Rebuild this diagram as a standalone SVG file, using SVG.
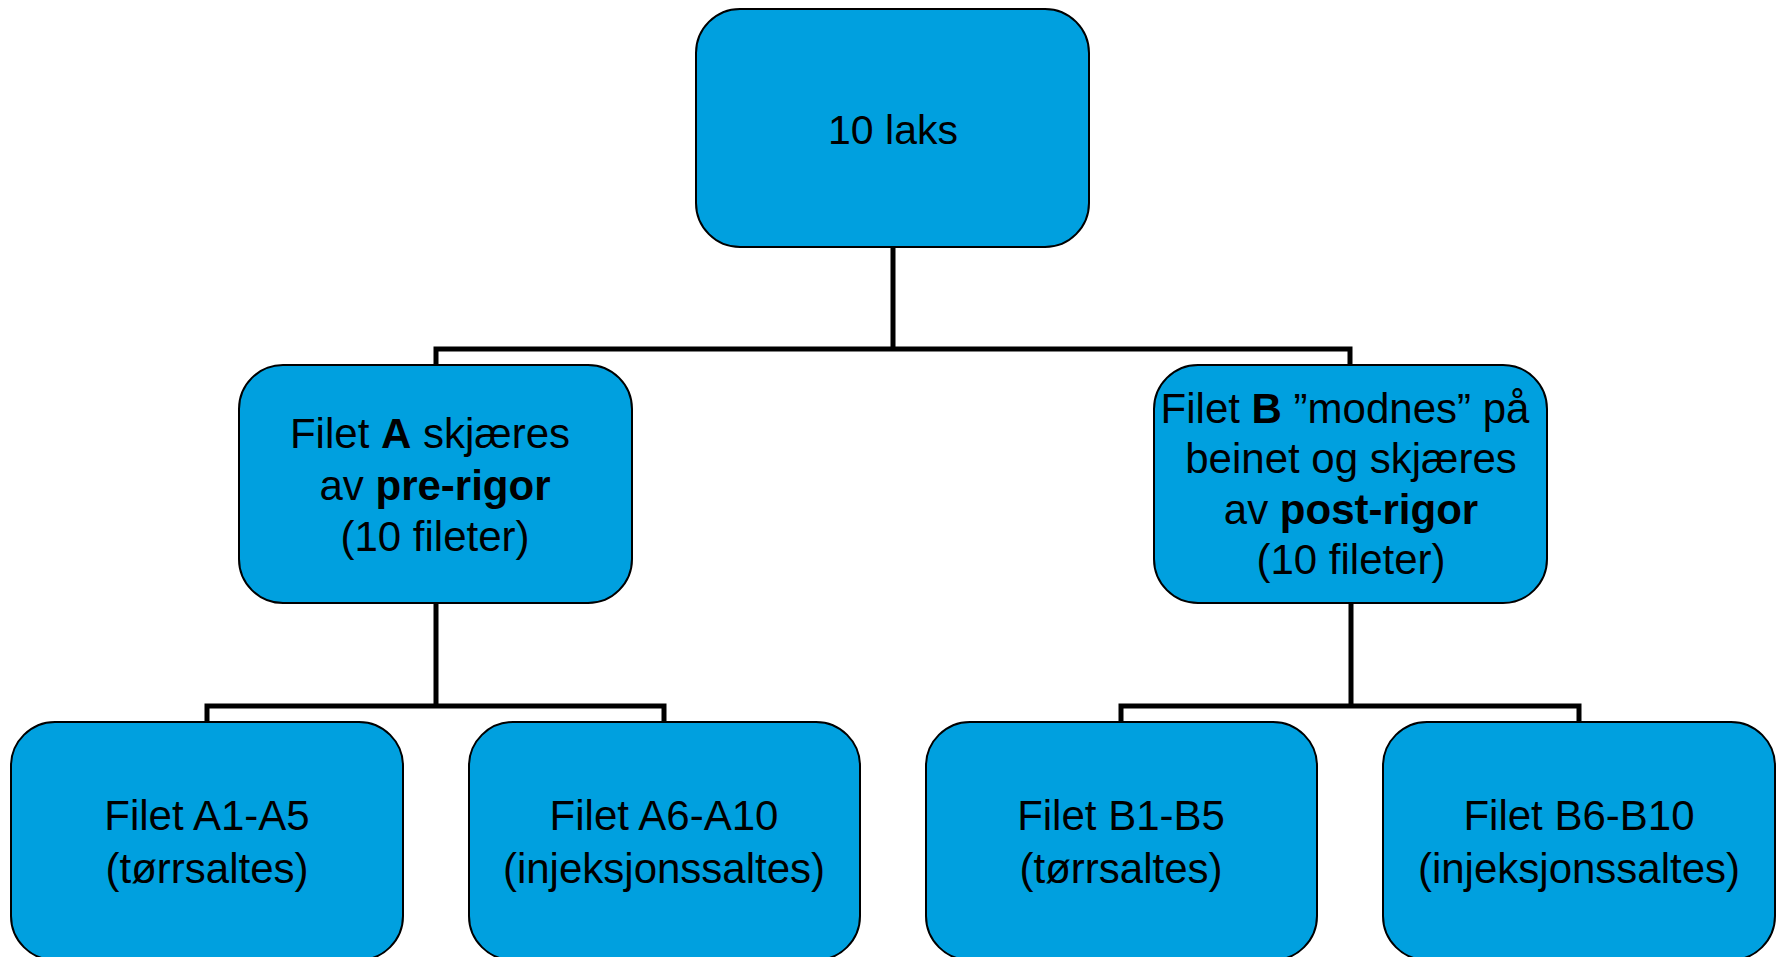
<svg xmlns="http://www.w3.org/2000/svg" width="1779" height="957" viewBox="0 0 1779 957">
<style>
.box{fill:#00A0DF;stroke:#000;stroke-width:2}
.conn{fill:none;stroke:#000;stroke-width:5}
text{font-family:"Liberation Sans",Arial,sans-serif;font-size:42px;fill:#000;text-anchor:middle}
.b{font-weight:bold}
</style>
<rect width="1779" height="957" fill="#fff"/>
<g id="connectors">
<path class="conn" d="M893 247V349M436 365V349H1350V365"/>
<path class="conn" d="M436 603V706M207 722V706H664V722"/>
<path class="conn" d="M1351 603V706M1121 722V706H1579V722"/>
</g>
<g id="n_top">
<rect class="box" x="696" y="9" width="393" height="238" rx="44"/>
<text x="893" y="144" style="font-size:41px">10 laks</text>
</g>
<g id="n_A">
<rect class="box" x="239" y="365" width="393" height="238" rx="44"/>
<text x="430" y="448">Filet <tspan class="b">A</tspan> skjæres</text>
<text x="435" y="500">av <tspan class="b">pre-rigor</tspan></text>
<text x="435" y="551">(10 fileter)</text>
</g>
<g id="n_B">
<rect class="box" x="1154" y="365" width="393" height="238" rx="44"/>
<text x="1345" y="423">Filet <tspan class="b">B</tspan> ”modnes” på</text>
<text x="1351" y="473">beinet og skjæres</text>
<text x="1351" y="524">av <tspan class="b">post-rigor</tspan></text>
<text x="1351" y="574">(10 fileter)</text>
</g>
<g id="n_A1">
<rect class="box" x="11" y="722" width="392" height="238" rx="44"/>
<text x="207" y="830">Filet A1-A5</text>
<text x="207" y="883">(tørrsaltes)</text>
</g>
<g id="n_A6">
<rect class="box" x="469" y="722" width="391" height="238" rx="44"/>
<text x="664" y="830">Filet A6-A10</text>
<text x="664" y="883">(injeksjonssaltes)</text>
</g>
<g id="n_B1">
<rect class="box" x="926" y="722" width="391" height="238" rx="44"/>
<text x="1121" y="830">Filet B1-B5</text>
<text x="1121" y="883">(tørrsaltes)</text>
</g>
<g id="n_B6">
<rect class="box" x="1383" y="722" width="392" height="238" rx="44"/>
<text x="1579" y="830">Filet B6-B10</text>
<text x="1579" y="883">(injeksjonssaltes)</text>
</g>
</svg>
